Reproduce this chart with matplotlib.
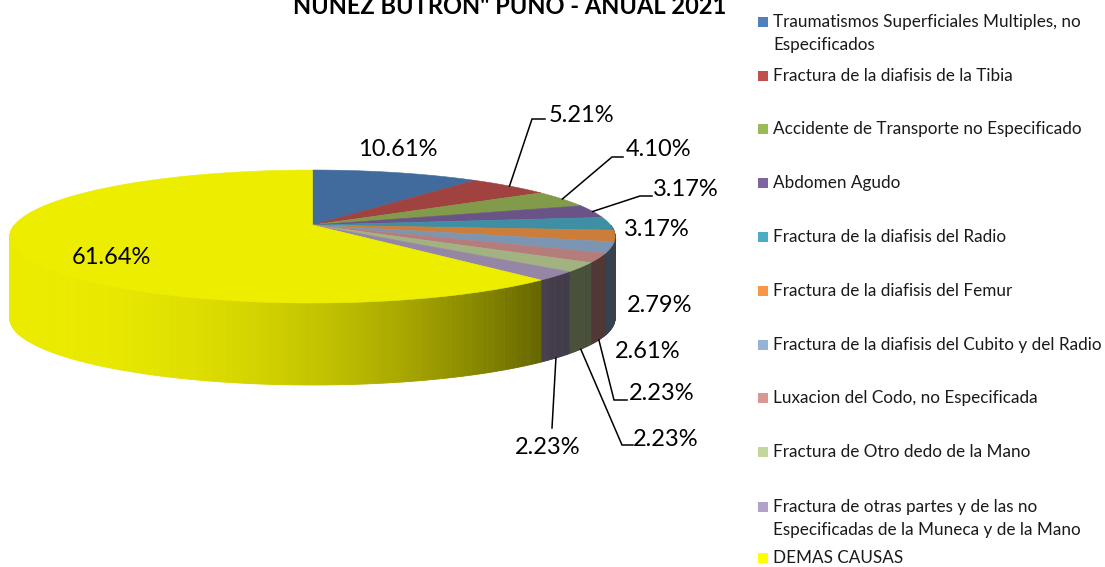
import numpy as np
import matplotlib
matplotlib.use("Agg")
import matplotlib.pyplot as plt
from matplotlib.patches import Polygon, Rectangle

# -------------------------
# Data
# -------------------------
categorias = [
    "Traumatismos Superficiales Multiples, no\nEspecificados",
    "Fractura de la diafisis de la Tibia",
    "Accidente de Transporte no Especificado",
    "Abdomen Agudo",
    "Fractura de la diafisis del Radio",
    "Fractura de la diafisis del Femur",
    "Fractura de la diafisis del Cubito y del Radio",
    "Luxacion del Codo, no Especificada",
    "Fractura de Otro dedo de la Mano",
    "Fractura de otras partes y de las no\nEspecificadas de la Muneca y de la Mano",
    "DEMAS CAUSAS",
]
porcentajes = [10.61, 5.21, 4.10, 3.17, 3.17, 2.79, 2.61, 2.23, 2.23, 2.23, 61.64]
colores = ["#4F81BD", "#C0504D", "#9BBB59", "#8064A2", "#4BACC6", "#F79646",
           "#95B3D7", "#D99694", "#C3D69B", "#B3A2C7", "#FFFF00"]
titulo = 'NUÑEZ BUTRON" PUNO - ANUAL 2021'

# -------------------------
# Layout (pixels)
# -------------------------
W, H = 1105, 567
CX, CY = 312.5, 225.0      # projected centre of the pie
A, B, K = 298.0, 64.5, 0.173  # horizontal / vertical radius, perspective
DEPTH = 82.0

# label text centres, and leader elbows (None = no leader)
label_pos = [(398, 150), (582, 115), (659, 150), (686, 190), (657, 230),
             (660, 305), (648, 352), (662, 393), (666, 440), (548, 447),
             (111, 258)]
leaders = [None, (532, 119, 545), (612, 157, 623), (640, 196, 652), None,
           None, None, (614, 400, 627), (622, 445, 633), (552, 428, 552),
           None]
leader_on_bottom = [False, False, False, False, False, False, False,
                    True, True, True, False]

legend_y = [22, 76, 129, 183, 237, 291, 345, 398, 452, 507, 558]

FONT = "Lato"

fig = plt.figure(figsize=(W / 100, H / 100), dpi=100)
ax = fig.add_axes([0, 0, 1, 1])
ax.set_xlim(0, W)
ax.set_ylim(H, 0)
ax.axis("off")


def proj(theta, drop=0.0):
    u = np.sin(theta)
    v = np.cos(theta)
    w = 1 + K * v
    return CX + A * u / w, CY - B * v / w + drop


def shade(color, f):
    r, g, b = matplotlib.colors.to_rgb(color)
    f = max(0.0, min(1.0, f))
    return (r * f, g * f, b * f)


def side_factor(x):
    # lighter on the left, darker towards the right (Excel-like lighting)
    t = np.clip((x - 15) / 525.0, 0, 1.3)
    return max(0.37, 0.92 - 0.52 * t ** 2.2)


fracs = np.array(porcentajes) / np.sum(porcentajes)
edges = np.concatenate([[0], np.cumsum(fracs)]) * 2 * np.pi

# -------------------------
# Side walls (front half only)
# -------------------------
quads = []
for i in range(len(fracs)):
    t0 = max(edges[i], np.pi / 2)
    t1 = min(edges[i + 1], 3 * np.pi / 2)
    if t1 <= t0:
        continue
    n = max(2, int(np.degrees(t1 - t0) / 0.5))
    ts = np.linspace(t0, t1, n + 1)
    for a0, a1 in zip(ts[:-1], ts[1:]):
        x0, y0 = proj(a0)
        x1, y1 = proj(a1)
        pts = [(x0, y0), (x1, y1), (x1, y1 + DEPTH), (x0, y0 + DEPTH)]
        c = shade(colores[i], side_factor((x0 + x1) / 2))
        quads.append((np.cos((a0 + a1) / 2), pts, c))

quads.sort(key=lambda q: -q[0])
for _, pts, c in quads:
    ax.add_patch(Polygon(pts, closed=True, facecolor=c, edgecolor=c,
                         linewidth=0.6))

# -------------------------
# Top faces
# -------------------------
for i in range(len(fracs)):
    ts = np.linspace(edges[i], edges[i + 1], 200)
    xs, ys = proj(ts)
    pts = [(CX, CY)] + list(zip(xs, ys))
    f = 0.93 if i == len(fracs) - 1 else 0.83
    c = shade(colores[i], f)
    ax.add_patch(Polygon(pts, closed=True, facecolor=c, edgecolor=c,
                         linewidth=0.4))

# -------------------------
# Data labels + leader lines
# -------------------------
for i, p in enumerate(porcentajes):
    tx, ty = label_pos[i]
    ax.text(tx, ty, f"{p:.2f}%", ha="center", va="center",
            fontsize=17, family=FONT, color="black")
    if leaders[i] is not None:
        mid = (edges[i] + edges[i + 1]) / 2
        drop = DEPTH if leader_on_bottom[i] else 0.0
        ax_, ay_ = proj(mid, drop)
        ex, ey, hx = leaders[i]
        ax.plot([ax_, ex, hx], [ay_, ey, ey], color="black", lw=1.1,
                solid_joinstyle="miter")

# -------------------------
# Legend (drawn by hand, Excel-like)
# -------------------------
for i, lab in enumerate(categorias):
    y = legend_y[i]
    ax.add_patch(Rectangle((758, y - 5), 10, 10, facecolor=colores[i],
                           edgecolor="none"))
    for j, line in enumerate(lab.split("\n")):
        ax.text(773, y + j * 23, line, ha="left", va="center",
                fontsize=12.3, family=FONT, color="#1a1a1a")

# -------------------------
# Title (top line is cut off by the figure edge, as in the original)
# -------------------------
ax.text(510, 14, titulo, ha="center", va="baseline", fontsize=17,
        fontweight="bold", family=FONT, color="black")

fig.savefig("out.png", dpi=100)
